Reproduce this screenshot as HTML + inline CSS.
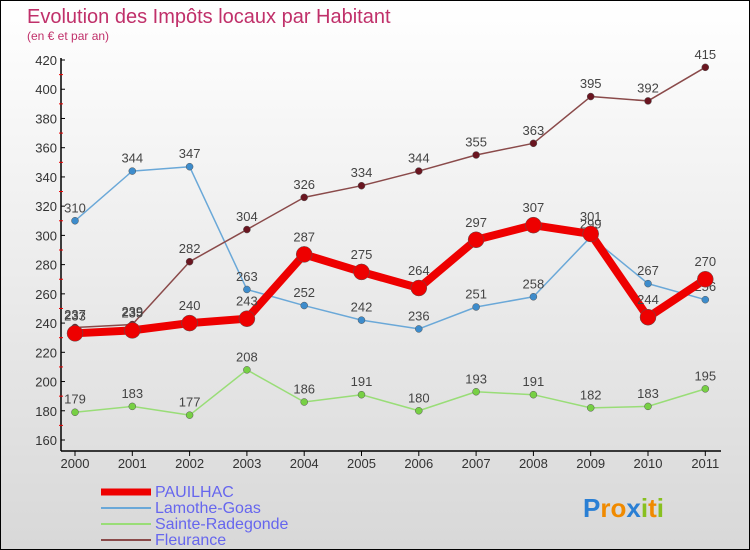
<!DOCTYPE html>
<html><head><meta charset="utf-8"><style>
body{margin:0}
#c{width:748px;height:548px;border:1px solid #000;background:linear-gradient(#fff,#d8d8d8);position:relative;font-family:"Liberation Sans",sans-serif;overflow:hidden}
</style></head><body>
<div id="c">
<svg id="s" width="748" height="548"></svg>
</div>
<script>
const years=["2000","2001","2002","2003","2004","2005","2006","2007","2008","2009","2010","2011"];
const pauilhac=[233,235,240,243,287,275,264,297,307,301,244,270];
const lamothe=[310,344,347,263,252,242,236,251,258,299,267,256];
const sainte=[179,183,177,208,186,191,180,193,191,182,183,195];
const fleurance=[237,239,282,304,326,334,344,355,363,395,392,415];
const yTicks=[160,180,200,220,240,260,280,300,320,340,360,380,400,420];
const NS="http://www.w3.org/2000/svg";
const s=document.getElementById('s');
function X(i){return 74+i*57.3;}
function Y(v){return 439-(v-160)*1.4615;}
function el(t,a,p){const e=document.createElementNS(NS,t);for(const k in a)e.setAttribute(k,a[k]);(p||s).appendChild(e);return e;}
function tx(x,y,str,a){const e=el('text',Object.assign({x:x,y:y},a));e.textContent=str;return e;}
let t=tx(26,22,"Evolution des Impôts locaux par Habitant",{fill:"#c0306a","font-size":20});

t=tx(26,39,"(en € et par an)",{fill:"#c0306a","font-size":12});

let a=el('line',{x1:60,y1:57,x2:60,y2:450,stroke:"#000","stroke-width":1.5});

a=el('line',{x1:60,y1:450,x2:720,y2:450,stroke:"#000","stroke-width":1.5});

yTicks.forEach((v,i)=>{
  el('line',{x1:60,y1:Y(v),x2:64,y2:Y(v),stroke:"#000"});
  if(i<yTicks.length-1)el('line',{x1:58,y1:Y(v+10),x2:62,y2:Y(v+10),stroke:"#e00"});
  const l=tx(56,Y(v)+5,String(v),{fill:"#333","font-size":13,"text-anchor":"end"});
  
});
years.forEach((y,i)=>{
  el('line',{x1:X(i),y1:450,x2:X(i),y2:455,stroke:"#000"});
  const l=tx(X(i),467,y,{fill:"#333","font-size":13,"text-anchor":"middle"});
  
});
function series(d,col,dot,w,r,name){
  const g=el('g',{});
  
  el('polyline',{points:d.map((v,i)=>X(i)+','+Y(v)).join(' '),fill:"none",stroke:col,"stroke-width":w,"stroke-linejoin":"round"},g);
  d.forEach((v,i)=>{
    const c=el('circle',{cx:X(i),cy:Y(v),r:r,fill:dot,stroke:"#555","stroke-width":0.5},g);
    
    const l=tx(X(i),Y(v)-r-5,String(v),{fill:"#444","font-size":13,"text-anchor":"middle"},g);
    
  });
}
series(sainte,"#99dd77","#77d044",1.5,3.5,"sainte-radegonde");
series(lamothe,"#6aa8d8","#3d8ccc",1.5,3.5,"lamothe-goas");
series(fleurance,"#8a4a4a","#6a1520",1.5,3.5,"fleurance");
series(pauilhac,"#ee0000","#ee0000",8,8,"pauilhac");
const leg=[["PAUILHAC","#ee0000",7],["Lamothe-Goas","#6aa8d8",2],["Sainte-Radegonde","#99dd77",2],["Fleurance","#8a4a4a",2]];
leg.forEach((L,i)=>{
  const yy=491+i*16;
  const g=el('g',{});
  el('line',{x1:100,y1:yy,x2:150,y2:yy,stroke:L[1],"stroke-width":L[2]},g);
  tx(154,yy+5,L[0],{fill:"#6666ee","font-size":16},g);
});
const lg=tx(582,516,"",{"font-size":26,"font-weight":"bold"});

[["P","#2a7fd4"],["r","#f08a00"],["o","#f08a00"],["x","#2a7fd4"],["i","#88c020"],["t","#f08a00"],["i","#88c020"]].forEach(p=>{el('tspan',{fill:p[1]},lg).textContent=p[0];});
</script>
</body></html>
